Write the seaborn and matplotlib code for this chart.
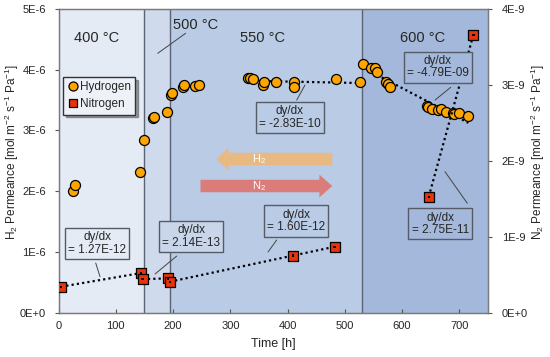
import numpy as np
import pandas as pd
import matplotlib
matplotlib.use("Agg")
import matplotlib.pyplot as plt
from matplotlib.lines import Line2D
from matplotlib.patches import FancyArrow
import seaborn as sns

# ---------------- data ----------------
h2_time = [25.8, 29.3, 142, 149.6, 165, 166.5, 189, 195.6, 197.3, 216.5, 219.4, 238.5, 245,
           331, 334, 339.6, 357, 358, 379, 410.6, 412, 484, 527,
           531.4, 546, 551.8, 555.8, 572, 575, 579.7, 643, 646, 651.7, 663, 668, 676.8,
           689, 691, 698.8, 715.7]
h2_perm = [2.00, 2.10, 2.31, 2.84, 3.20, 3.22, 3.31, 3.58, 3.61, 3.71, 3.75, 3.73, 3.75,
           3.87, 3.86, 3.84, 3.75, 3.80, 3.80, 3.80, 3.71, 3.84, 3.79,
           4.10, 4.02, 4.02, 3.97, 3.80, 3.76, 3.71, 3.40, 3.38, 3.36, 3.34, 3.35, 3.31,
           3.29, 3.27, 3.29, 3.23]  # x1E-6
h2_seg = [0] * 13 + [2] * 10 + [3] * 17

n2_time = [4.4, 143.8, 146.8, 191.5, 194.4, 409.4, 482, 646.5, 724.4]
n2_perm = [0.34, 0.52, 0.44, 0.45, 0.406, 0.75, 0.867, 1.526, 3.66]  # x1E-9
n2_seg = [0, 0, 1, 1, 2, 2, 2, 3, 3]

region_edges = [0, 150, 195, 530, 750]
region_labels = ["400 °C", "500 °C", "550 °C", "600 °C"]
slope_labels = ["dy/dx\n= 1.27E-12", "dy/dx\n= 2.14E-13", "dy/dx\n= 1.60E-12",
                "dy/dx\n= -2.83E-10", "dy/dx\n= -4.79E-09", "dy/dx\n= 2.75E-11"]
x_ticks = [0, 100, 200, 300, 400, 500, 600, 700]
y1_ticks = [0, 1e-6, 2e-6, 3e-6, 4e-6, 5e-6]
y1_ticklabels = ["0E+0", "1E-6", "2E-6", "3E-6", "4E-6", "5E-6"]
y2_ticks = [0, 1e-9, 2e-9, 3e-9, 4e-9]
y2_ticklabels = ["0E+0", "1E-9", "2E-9", "3E-9", "4E-9"]

h2 = pd.DataFrame({"t": h2_time, "p": np.array(h2_perm) * 1e-6, "seg": h2_seg})
n2 = pd.DataFrame({"t": n2_time, "p": np.array(n2_perm) * 1e-9, "seg": n2_seg})

# ---------------- style ----------------
sns.set_style("ticks")
plt.rcParams["font.family"] = ["Liberation Sans", "DejaVu Sans"]
plt.rcParams["mathtext.fontset"] = "custom"
plt.rcParams["mathtext.rm"] = "Liberation Sans"
plt.rcParams["mathtext.it"] = "Liberation Sans"

region_colors = ["#e4ebf5", "#cfdaec", "#b9cbe5", "#a3b8da"]
box_colors = ["#e4ebf5", "#c9d6ea", "#b9cbe5", "#b9cbe5", "#a3b8da", "#a3b8da"]
edge_col = "#555c68"
orange = "#ffa500"
red = "#e8330c"

fig = plt.figure(figsize=(5.5, 3.57), dpi=100)
ax = fig.add_axes([0.1064, 0.1246, 0.7809, 0.8502])
ax2 = ax.twinx()

for i in range(4):
    ax.axvspan(region_edges[i], region_edges[i + 1], color=region_colors[i], lw=0, zorder=0)
for xe in region_edges[1:4]:
    ax.axvline(xe, color="#5b6474", lw=1.0, zorder=1)

dot_ls = (0, (1, 1.4))
# H2 fits (550 and 600 regions)
for s in [2, 3]:
    d = h2[h2.seg == s]
    sns.regplot(data=d, x="t", y="p", ax=ax, scatter=False, ci=None, truncate=True,
                line_kws=dict(color="black", lw=1.6, ls=dot_ls, zorder=2))
sns.scatterplot(data=h2, x="t", y="p", ax=ax, color=orange, edgecolor="black",
                linewidth=0.9, s=52, zorder=3, legend=False)

# N2 fits
for s in [0, 1, 2, 3]:
    d = n2[n2.seg == s]
    sns.regplot(data=d, x="t", y="p", ax=ax2, scatter=False, ci=None, truncate=True,
                line_kws=dict(color="black", lw=1.6, ls=dot_ls, zorder=2))
sns.scatterplot(data=n2, x="t", y="p", ax=ax2, color=red, edgecolor="black",
                marker="s", linewidth=0.9, s=46, zorder=3, legend=False)
sns.scatterplot(data=n2, x="t", y="p", ax=ax2, color="black", edgecolor="none",
                marker="s", s=3, zorder=4, legend=False)

# axes
ax.set_xlim(0, 750)
ax.set_ylim(0, 5e-6)
ax2.set_ylim(0, 4e-9)
ax.set_xticks(x_ticks)
ax.set_yticks(y1_ticks)
ax.set_yticklabels(y1_ticklabels)
ax2.set_yticks(y2_ticks)
ax2.set_yticklabels(y2_ticklabels)
ax.tick_params(axis="x", direction="in", length=3, labelsize=8, pad=6, color="#555555")
ax.tick_params(axis="y", direction="out", length=3, labelsize=8, pad=6, color="#555555")
ax2.tick_params(axis="y", direction="out", length=3, labelsize=8, pad=7, color="#555555")
ax.set_xlabel("Time [h]", fontsize=9, labelpad=5)
ax.set_ylabel("H$_2$ Permeance [mol m$^{-2}$ s$^{-1}$ Pa$^{-1}$]", fontsize=8.5)
ax2.set_ylabel("N$_2$ Permeance [mol m$^{-2}$ s$^{-1}$ Pa$^{-1}$]", fontsize=8.5, rotation=90)
ax.yaxis.set_label_coords(-0.088, 0.53)
ax2.yaxis.set_label_coords(1.094, 0.53)
for a in (ax, ax2):
    for sp in a.spines.values():
        sp.set_color("#7a7a7a")
        sp.set_linewidth(0.9)

# temperature labels
ax2.text(0.0896, 0.904, region_labels[0], transform=ax.transAxes, ha="center", va="center", fontsize=10.5)
ax2.text(0.318, 0.947, region_labels[1], transform=ax.transAxes, ha="center", va="center", fontsize=10.5)
ax2.text(0.476, 0.904, region_labels[2], transform=ax.transAxes, ha="center", va="center", fontsize=10.5)
ax2.text(0.8487, 0.904, region_labels[3], transform=ax.transAxes, ha="center", va="center", fontsize=10.5)
ax2.plot([0.296, 0.231], [0.920, 0.854], transform=ax.transAxes, color="#444444", lw=0.7)

# slope boxes
box_pos = [(0.0896, 0.227), (0.3085, 0.2498), (0.553, 0.3015),
           (0.5383, 0.6425), (0.8831, 0.8083), (0.889, 0.2923)]
leaders = [((0.0866, 0.163), (0.0966, 0.118)), ((0.2752, 0.186), (0.2247, 0.1269)),
           ((0.508, 0.239), (0.4878, 0.1993)), ((0.5546, 0.700), (0.5739, 0.7496)),
           ((0.9132, 0.742), (0.8766, 0.700)), ((0.9518, 0.3598), (0.8999, 0.4639))]
for lab, (bx, by), fc, (p0, p1) in zip(slope_labels, box_pos, box_colors, leaders):
    ax2.text(bx, by, lab, transform=ax.transAxes, ha="center", va="center", fontsize=8.5,
             linespacing=1.05, zorder=6,
             bbox=dict(boxstyle="square,pad=0.28", fc=fc, ec=edge_col, lw=1.0))
    ax2.plot([p0[0], p1[0]], [p0[1], p1[1]], transform=ax.transAxes, color="#444444", lw=0.7, zorder=5)

# arrows
arr_h2 = FancyArrow(0.6374, 0.5058, -0.2696, 0, width=0.041, head_width=0.075, head_length=0.028,
                    length_includes_head=True, transform=ax.transAxes, color="#e8b982", lw=0, zorder=5)
arr_n2 = FancyArrow(0.3306, 0.4168, 0.3068, 0, width=0.041, head_width=0.075, head_length=0.03,
                    length_includes_head=True, transform=ax.transAxes, color="#da7d7a", lw=0, zorder=5)
ax2.add_patch(arr_h2)
ax2.add_patch(arr_n2)
ax2.text(0.4668, 0.5058, "H$_2$", transform=ax.transAxes, ha="center", va="center", color="white", fontsize=8, zorder=6)
ax2.text(0.4668, 0.4168, "N$_2$", transform=ax.transAxes, ha="center", va="center", color="white", fontsize=8, zorder=6)

# legend
handles = [Line2D([], [], marker="o", ls="none", mfc=orange, mec="black", mew=0.9, ms=6.5, label="Hydrogen"),
           Line2D([], [], marker="s", ls="none", mfc=red, mec="black", mew=0.9, ms=6, label="Nitrogen")]
leg = ax2.legend(handles=handles, loc="upper left", bbox_to_anchor=(0.011, 0.776), fontsize=8.5,
                 frameon=True, fancybox=False, shadow=True, handletextpad=0.1, handlelength=1.0,
                 borderpad=0.35, labelspacing=0.45, borderaxespad=0)
leg.get_frame().set_edgecolor("#333333")
leg.get_frame().set_facecolor("#eef2f8")
leg.get_frame().set_linewidth(1.0)
leg.set_zorder(7)

fig.savefig("out.png", dpi=100)
